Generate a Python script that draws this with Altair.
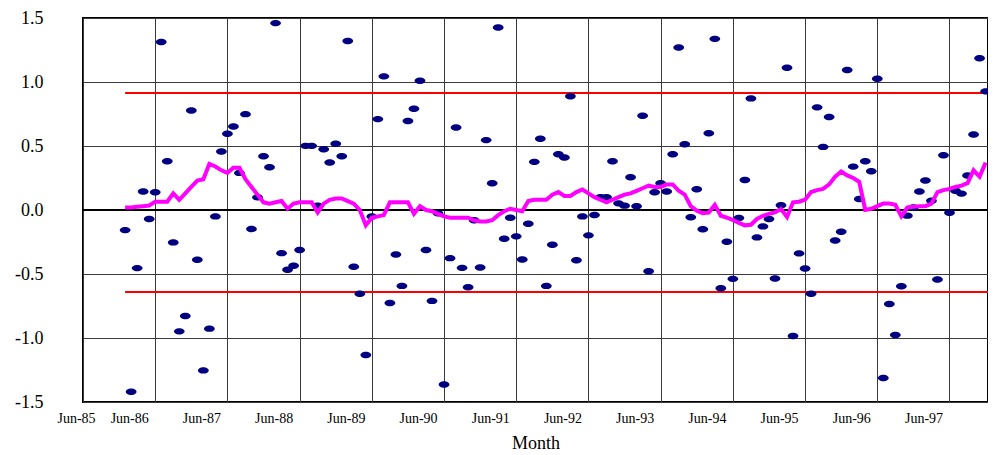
import altair as alt
import pandas as pd

# monthly index (0 = first observation)
values = [
    -0.157, -1.42, -0.454, 0.144, -0.07, 0.138, 1.313, 0.381, -0.253, -0.948,
    -0.828, 0.778, -0.389, -1.253, -0.927, -0.05, 0.457, 0.595, 0.653, 0.29,
    0.749, -0.149, 0.099, 0.42, 0.334, 1.46, -0.337, -0.467, -0.436, -0.313,
    0.501, 0.501, 0.034, 0.475, 0.371, 0.517, 0.42, 1.321, -0.444, -0.655,
    -1.133, -0.05, 0.71, 1.044, -0.726, -0.347, -0.593, 0.695, 0.791, 1.01,
    -0.313, -0.71, -0.026, -1.363, -0.376, 0.645, -0.452, -0.603, -0.08, -0.449,
    0.546, 0.209, 1.426, -0.225, -0.06, -0.206, -0.386, -0.107, 0.376, 0.556,
    -0.593, -0.272, 0.436, 0.41, 0.888, -0.392, -0.05, -0.198, -0.039, 0.10,
    0.099, 0.381, 0.052, 0.034, 0.256, 0.029, 0.736, -0.478, 0.138, 0.209,
    0.144, 0.436, 1.269, 0.514, -0.057, 0.162, -0.151, 0.60, 1.337, -0.611,
    -0.248, -0.538, -0.063, 0.235, 0.872, -0.214, -0.128, -0.07, -0.535, 0.037,
    1.112, -0.984, -0.339, -0.457, -0.655, 0.802, 0.493, 0.726, -0.238, -0.17,
    1.094, 0.339, 0.086, 0.381, 0.303, 1.026, -1.313, -0.734, -0.977, -0.595,
    -0.044, 0.02, 0.144, 0.23, 0.073, -0.543, 0.428, -0.021, 0.151, 0.128,
    0.269, 0.59, 1.185, 0.927,
]

moving_avg = [
    0.02, 0.02, 0.025, 0.03, 0.035, 0.065, 0.065, 0.065, 0.13, 0.08,
    0.13, 0.18, 0.23, 0.24, 0.36, 0.34, 0.31, 0.29, 0.33, 0.33,
    0.24, 0.18, 0.12, 0.06, 0.05, 0.06, 0.07, 0.01, 0.05, 0.06,
    0.06, 0.06, -0.02, 0.05, 0.08, 0.09, 0.09, 0.07, 0.05, 0.0,
    -0.12, -0.06, -0.05, -0.04, 0.06, 0.06, 0.06, 0.06, -0.03, 0.03,
    0.0, -0.01, -0.03, -0.05, -0.06, -0.06, -0.06, -0.06, -0.08, -0.09,
    -0.09, -0.08, -0.04, -0.01, 0.01, 0.0, -0.01, 0.07, 0.08, 0.08,
    0.08, 0.12, 0.14, 0.11, 0.11, 0.14, 0.16, 0.13, 0.10, 0.08,
    0.06, 0.08, 0.10, 0.12, 0.13, 0.15, 0.17, 0.19, 0.18, 0.18,
    0.20, 0.20, 0.15, 0.12, 0.03, -0.005, -0.025, -0.02, 0.04, -0.045,
    -0.06, -0.078, -0.10, -0.12, -0.115, -0.07, -0.045, -0.03, -0.018, 0.008,
    -0.055, 0.06, 0.065, 0.08, 0.14, 0.155, 0.165, 0.20, 0.26, 0.30,
    0.27, 0.25, 0.22, 0.0, 0.01, 0.03, 0.05, 0.05, 0.04, -0.05,
    0.02, 0.025, 0.03, 0.03, 0.05, 0.14, 0.155, 0.165, 0.18, 0.19,
    0.21, 0.31, 0.26, 0.37,
]

upper_limit = 0.914
lower_limit = -0.64
first_month = 7          # position of first observation on the month axis
axis_end = 150.4
tick_labels = ["Jun-85", "Jun-86", "Jun-87", "Jun-88", "Jun-89", "Jun-90", "Jun-91",
               "Jun-92", "Jun-93", "Jun-94", "Jun-95", "Jun-96", "Jun-97"]
y_ticks = [-1.5, -1.0, -0.5, 0.0, 0.5, 1.0, 1.5]

df = pd.DataFrame({
    "month": [first_month + i for i in range(len(values))],
    "value": values,
    "avg": moving_avg,
})
limits = pd.DataFrame({
    "x": [first_month, first_month],
    "x2": [axis_end, axis_end],
    "y": [upper_limit, lower_limit],
})
zero = pd.DataFrame({"x": [0], "x2": [axis_end], "y": [0.0]})

FONT = "Liberation Serif"
label_arr = "[" + ",".join("'" + t + "'" for t in tick_labels) + "]"

xscale = alt.Scale(domain=[0, axis_end], nice=False, zero=False)
yscale = alt.Scale(domain=[-1.5, 1.5], nice=False)

xaxis = alt.Axis(
    values=list(range(0, 151, 6)),
    labelExpr=f"datum.value % 12 == 0 ? {label_arr}[datum.value / 12] : ''",
    labelOverlap=False, labelOffset=-26, labelPadding=9,
    labelFont=FONT, labelFontSize=14, labelColor="black",
    ticks=False, domain=False, grid=True, gridColor="#3a3a3a", gridWidth=1,
    title="Month", titleFont=FONT, titleFontSize=18, titleFontWeight="normal",
    titleColor="black", titlePadding=9,
)
yaxis = alt.Axis(
    values=y_ticks,
    labelExpr="datum.value < 0 ? '-' + format(-datum.value, '.1f') : format(datum.value, '.1f')",
    labelFont=FONT, labelFontSize=18, labelColor="black", labelPadding=40,
    ticks=False, domain=False, grid=True, gridColor="#3a3a3a", gridWidth=1,
    title=None,
)

base_grid = alt.Chart(zero).mark_rule(opacity=0).encode(
    x=alt.X("x:Q", scale=xscale, axis=xaxis),
    y=alt.Y("y:Q", scale=yscale, axis=yaxis),
)

limit_rules = alt.Chart(limits).mark_rule(color="#FF0000", strokeWidth=2).encode(
    x=alt.X("x:Q", scale=xscale), x2="x2:Q", y=alt.Y("y:Q", scale=yscale)
)
zero_rule = alt.Chart(zero).mark_rule(color="black", strokeWidth=2).encode(
    x=alt.X("x:Q", scale=xscale), x2="x2:Q", y=alt.Y("y:Q", scale=yscale)
)

ellipse = "M-1,0A1,0.6,0,1,1,1,0A1,0.6,0,1,1,-1,0Z"
dots = alt.Chart(df).mark_point(
    shape=ellipse, filled=True, color="#000080", size=115, opacity=1, strokeWidth=0
).encode(
    x=alt.X("month:Q", scale=xscale),
    y=alt.Y("value:Q", scale=yscale),
)

avg_line = alt.Chart(df).mark_line(color="#FF00FF", strokeWidth=4).encode(
    x=alt.X("month:Q", scale=xscale),
    y=alt.Y("avg:Q", scale=yscale),
)

chart = alt.layer(base_grid, limit_rules, zero_rule, dots, avg_line).properties(
    width=905, height=384,
    padding={"left": 75, "top": 10, "right": 0, "bottom": 56},
    autosize="none",
).configure_view(stroke="black", strokeWidth=2)

chart.save("out.html", embed_options={"renderer": "svg", "actions": False})
